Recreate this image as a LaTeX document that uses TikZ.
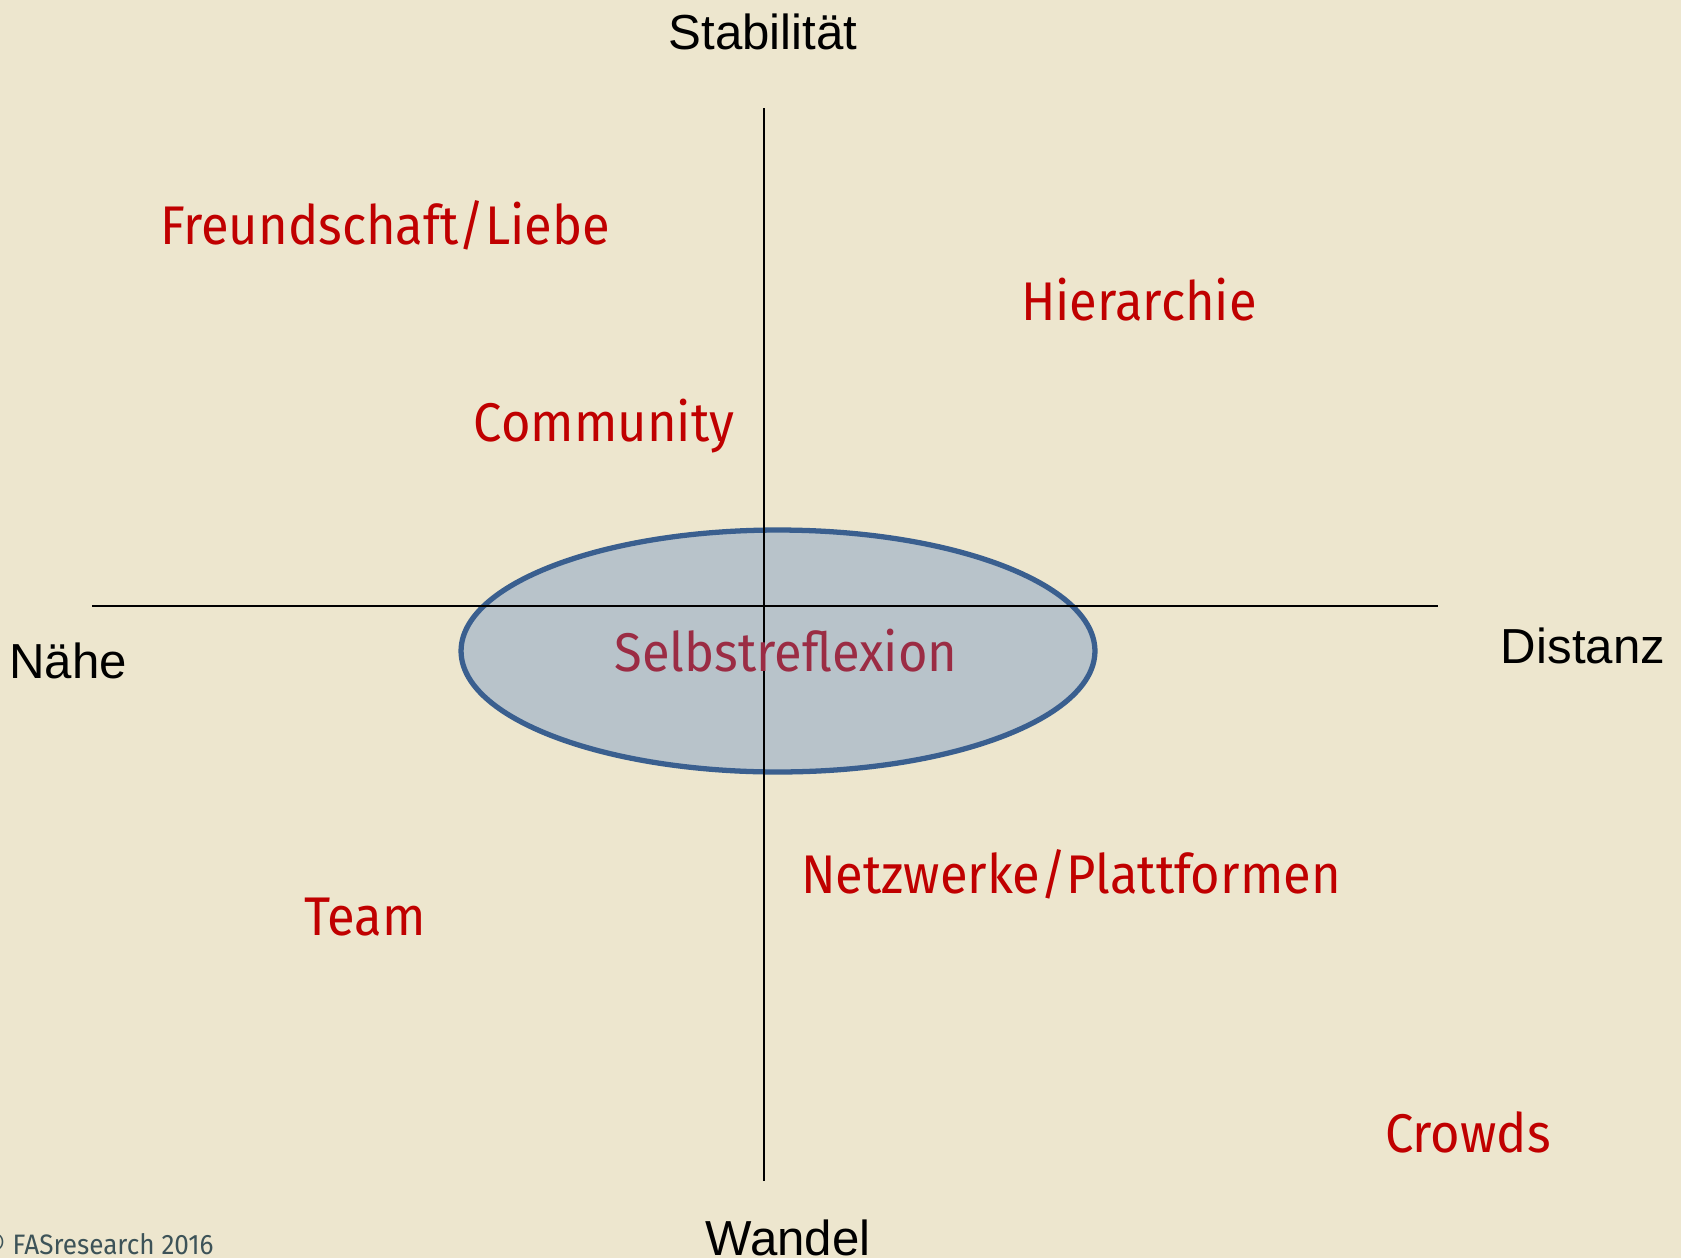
\documentclass[tikz,border=0pt]{standalone}
\usepackage{fontspec}
\setmainfont{Liberation Sans}
\newfontfamily\condfont[FakeStretch=0.93]{Fira Sans}
\usepackage{tikz}
\usetikzlibrary{shapes.geometric}

\definecolor{paper}{HTML}{EDE6CE}
\definecolor{labelred}{HTML}{C00000}
\definecolor{selfred}{HTML}{9B2C44}
\definecolor{ellfill}{HTML}{B8C3CA}
\definecolor{elledge}{HTML}{3A5F8F}
\definecolor{slate}{HTML}{3D5358}

\begin{document}
\begin{tikzpicture}[x=0.02cm,y=-0.02cm,
  axis label/.style={font=\fontsize{28}{32}\selectfont,text=black,inner sep=0pt},
  group label/.style={font=\condfont\fontsize{31}{36}\selectfont,text=labelred,inner sep=0pt}]

  \fill[paper] (0,0) rectangle (1681,1258);
  \useasboundingbox (0,0) rectangle (1681,1258);

  % axes
  \coordinate (top) at (764,108);
  \coordinate (bottom) at (764,1181);
  \coordinate (left) at (92,606);
  \coordinate (right) at (1438,606);

  \node[ellipse,draw=elledge,fill=ellfill,line width=3pt,
    minimum width=12.68cm,minimum height=4.84cm,inner sep=0pt] (self) at (778,651) {};

  \draw[black,line width=0.8pt] (top) -- (bottom);
  \draw[black,line width=0.8pt] (left) -- (right);

  \node[font=\condfont\fontsize{31}{36}\selectfont,text=selfred,inner sep=0pt] (selftext) at (786,651) {Selbstreflexion};

  \node[axis label] (stab) at (763,32) {Stabilität};
  \node[axis label] (naehe) at (68,661) {Nähe};
  \node[axis label] (dist) at (1583,646) {Distanz};
  \node[axis label] (wandel) at (788,1238) {Wandel};

  \node[group label] (friends) at (385,225) {Freundschaft/Liebe};
  \node[group label] (hier) at (1139,300) {Hierarchie};
  \node[group label] (comm) at (604,426) {Community};
  \node[group label] (netz) at (1071,874) {Netzwerke/Plattformen};
  \node[group label] (team) at (365,917) {Team};
  \node[group label] (crowds) at (1468,1132) {Crowds};

  \node[anchor=east,font=\condfont\fontsize{16}{19}\selectfont,text=slate,inner sep=0pt] (copy) at (214,1244) {© FASresearch 2016};
\end{tikzpicture}
\end{document}
